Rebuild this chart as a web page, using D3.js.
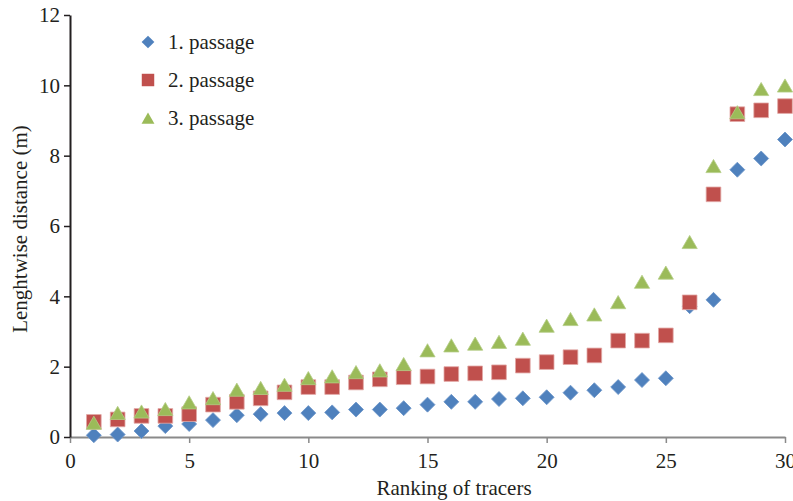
<!DOCTYPE html>
<html>
<head>
<meta charset="utf-8">
<script src="https://cdn.jsdelivr.net/npm/d3@7"></script>
<style>
  body { margin: 0; background: #fff; }
  text { font-family: "Liberation Serif", "DejaVu Serif", serif; fill: #231f20; }
</style>
</head>
<body>
<svg id="chart" width="793" height="501"></svg>
<script>
// ranking of tracers 1..30
const ranks = d3.range(1, 31)

const passage1 = [0.05, 0.07, 0.17, 0.31, 0.37, 0.48, 0.62, 0.65, 0.68, 0.68,
                  0.70, 0.78, 0.78, 0.82, 0.92, 1.00, 1.00, 1.08, 1.10, 1.13,
                  1.26, 1.33, 1.42, 1.62, 1.67, 3.72, 3.90, 7.60, 7.92, 8.46]
const passage2 = [0.43, 0.50, 0.60, 0.60, 0.65, 0.92, 1.00, 1.10, 1.27, 1.42,
                  1.42, 1.55, 1.64, 1.70, 1.72, 1.79, 1.81, 1.84, 2.03, 2.13,
                  2.27, 2.32, 2.74, 2.74, 2.89, 3.83, 6.90, 9.18, 9.29, 9.41]
const passage3 = [0.40, 0.68, 0.72, 0.79, 0.98, 1.10, 1.34, 1.39, 1.48, 1.67,
                  1.72, 1.84, 1.89, 2.07, 2.46, 2.60, 2.65, 2.70, 2.79, 3.16,
                  3.35, 3.48, 3.83, 4.41, 4.67, 5.54, 7.70, 9.23, 9.89, 9.99]

const seriesNames = ["1. passage", "2. passage", "3. passage"]
const xTicks = [0, 5, 10, 15, 20, 25, 30]
const yTicks = [0, 2, 4, 6, 8, 10, 12]

const svg = d3.select("#chart")

const x = d3.scaleLinear().domain([0, 30]).range([70, 785])
const y = d3.scaleLinear().domain([0, 12]).range([437, 15])

// symbols
const diamond = d3.symbol().type(d3.symbolSquare).size(112)
const square = d3.symbol().type(d3.symbolSquare).size(215)
const triangle = d3.symbol().type(d3.symbolTriangle).size(100)

// triangle is drawn around its centroid, nudge it so the box is centred
const series = [
  {name: seriesNames[0], values: passage1, path: diamond(), rot: 45, dy: 0, fill: "#4f81bd", stroke: "#6d96c9"},
  {name: seriesNames[1], values: passage2, path: square(), rot: 0, dy: 0, fill: "#c0504d", stroke: "#e2a8a6"},
  {name: seriesNames[2], values: passage3, path: triangle(), rot: 0, dy: 2, fill: "#9bbb59", stroke: "#b4cd85"}
]

// x axis
const xAxis = svg.append("g")
  .attr("transform", "translate(0," + y(0) + ")")
  .call(d3.axisBottom(x).tickValues(xTicks).tickSize(6).tickPadding(10).tickSizeOuter(0))
xAxis.select(".domain").attr("stroke", "#8a8a8a").attr("stroke-width", 2)
xAxis.selectAll(".tick line").attr("stroke", "#8a8a8a").attr("stroke-width", 1.5)
xAxis.selectAll(".tick text").style("font-size", "21px").attr("fill", "#231f20")

// y axis
const yAxis = svg.append("g")
  .attr("transform", "translate(" + x(0) + ",0)")
  .call(d3.axisLeft(y).tickValues(yTicks).tickSize(6).tickPadding(4).tickSizeOuter(0))
yAxis.select(".domain").attr("stroke", "#231f20").attr("stroke-width", 2)
yAxis.selectAll(".tick line").attr("stroke", "#231f20").attr("stroke-width", 1.5)
yAxis.selectAll(".tick text").style("font-size", "21px").attr("fill", "#231f20")

// axis titles
svg.append("text")
  .attr("x", 454).attr("y", 495)
  .attr("text-anchor", "middle")
  .style("font-size", "21px")
  .text("Ranking of tracers")

svg.append("text")
  .attr("transform", "translate(27,229) rotate(-90)")
  .attr("text-anchor", "middle")
  .style("font-size", "21px")
  .text("Lenghtwise distance (m)")

// points
series.forEach(s => {
  svg.append("g").selectAll("path")
    .data(ranks)
    .enter().append("path")
    .attr("d", s.path)
    .attr("transform", (d, i) => "translate(" + x(d) + "," + (y(s.values[i]) + s.dy) + ") rotate(" + s.rot + ")")
    .attr("fill", s.fill)
    .attr("stroke", s.stroke)
    .attr("stroke-width", 0.8)
})

// legend
const legend = svg.append("g")
series.forEach((s, i) => {
  const ly = 42 + i * 38
  legend.append("path")
    .attr("d", s.path)
    .attr("transform", "translate(148," + (ly + s.dy) + ") rotate(" + s.rot + ") scale(0.85)")
    .attr("fill", s.fill)
  legend.append("text")
    .attr("x", 168).attr("y", ly)
    .attr("dy", "0.35em")
    .style("font-size", "21px")
    .text(s.name)
})
</script>
</body>
</html>
